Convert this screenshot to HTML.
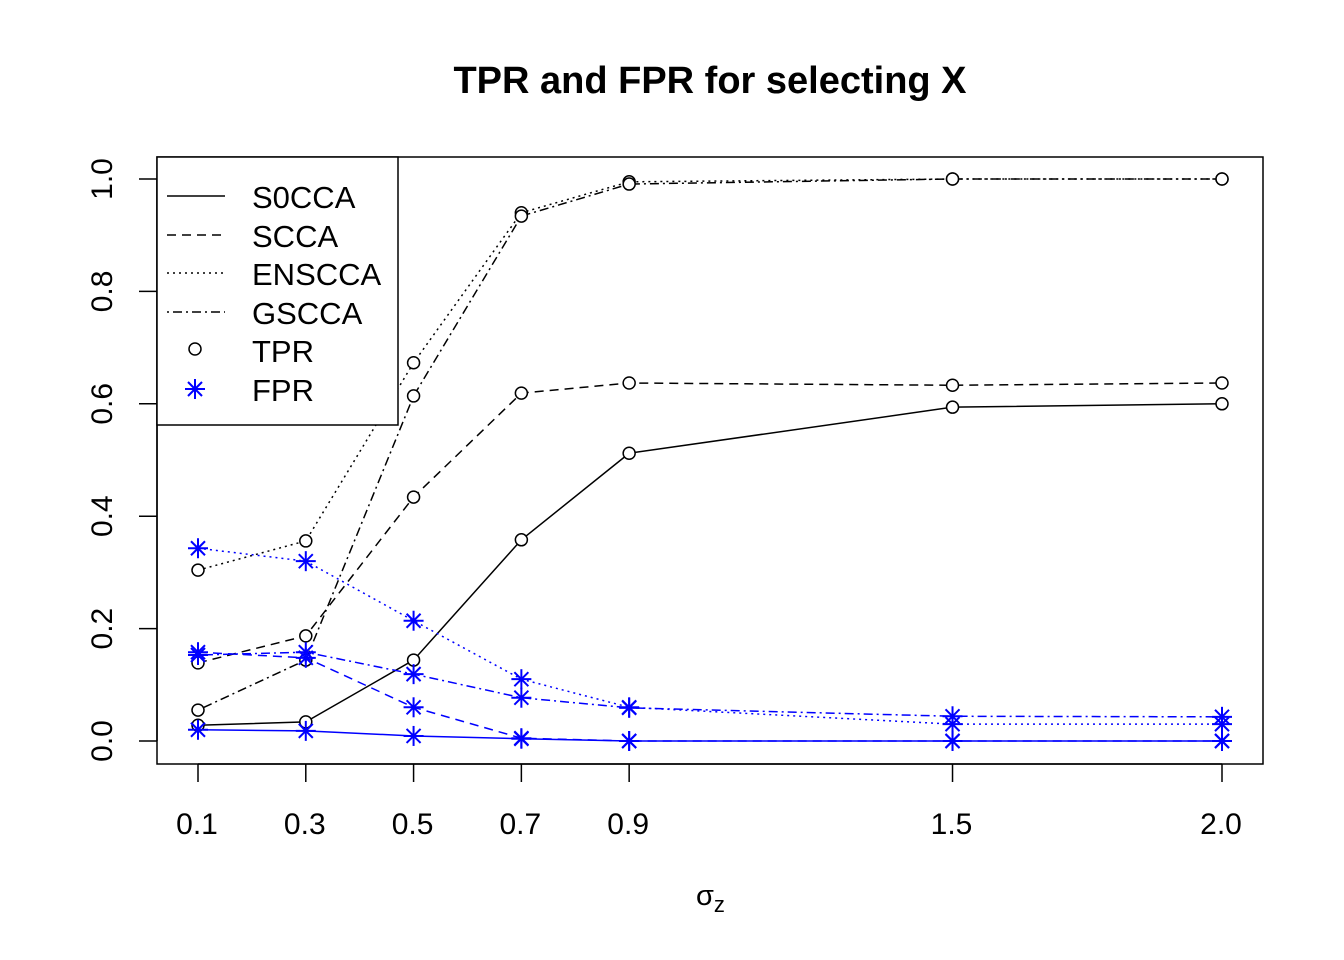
<!DOCTYPE html>
<html><head><meta charset="utf-8"><style>body{margin:0;background:#fff}svg{display:block}</style></head>
<body>
<svg id="chart" width="1344" height="960" xmlns="http://www.w3.org/2000/svg" font-family="Liberation Sans, sans-serif">
<rect width="1344" height="960" fill="#fff"/>
<text x="710" y="93" text-anchor="middle" font-size="38" font-weight="bold">TPR and FPR for selecting X</text>
<rect x="157" y="157" width="1106" height="607" fill="none" stroke="#000" stroke-width="1.5"/>
<g id="axes"></g>
<g id="series"></g>
<text x="696" y="905" font-size="29">σ<tspan font-size="22" dy="7">z</tspan></text>
<g>
<rect x="157" y="157" width="241" height="268" fill="#fff" stroke="#000" stroke-width="1.5"/>
<line x1="167" y1="196" x2="225" y2="196" stroke="#000" stroke-width="1.5"/>
<line x1="167" y1="235" x2="225" y2="235" stroke="#000" stroke-width="1.5" stroke-dasharray="9,6"/>
<line x1="167" y1="273" x2="225" y2="273" stroke="#000" stroke-width="1.5" stroke-dasharray="2,4"/>
<line x1="167" y1="312" x2="225" y2="312" stroke="#000" stroke-width="1.5" stroke-dasharray="2,4,9,4"/>
<circle cx="195" cy="349" r="6" fill="none" stroke="#000" stroke-width="1.5"/>
<g stroke="#00f" stroke-width="2"><line x1="185" y1="389" x2="205" y2="389"/><line x1="195" y1="379" x2="195" y2="399"/><line x1="188" y1="382" x2="202" y2="396"/><line x1="188" y1="396" x2="202" y2="382"/></g>
<g font-size="31"><text x="252" y="208">S0CCA</text><text x="252" y="247">SCCA</text><text x="252" y="285">ENSCCA</text><text x="252" y="324">GSCCA</text><text x="252" y="362">TPR</text><text x="252" y="401">FPR</text></g>
</g>
</svg>
<script>
const xs=[0.1,0.3,0.5,0.7,0.9,1.5,2.0];
const xTickLabels=["0.1","0.3","0.5","0.7","0.9","1.5","2.0"];
const yTicks=[0,0.2,0.4,0.6,0.8,1.0];
const yTickLabels=["0.0","0.2","0.4","0.6","0.8","1.0"];
const tprS0CCA=[0.028,0.034,0.144,0.358,0.512,0.594,0.6];
const tprSCCA=[0.139,0.187,0.434,0.619,0.637,0.633,0.637];
const tprENSCCA=[0.304,0.356,0.673,0.94,0.995,1.0,1.0];
const tprGSCCA=[0.055,0.144,0.614,0.934,0.991,1.0,1.0];
const fprS0CCA=[0.02,0.018,0.009,0.004,0,0,0];
const fprSCCA=[0.158,0.148,0.06,0.005,0,0,0];
const fprENSCCA=[0.343,0.32,0.214,0.11,0.06,0.03,0.03];
const fprGSCCA=[0.153,0.158,0.119,0.077,0.059,0.044,0.043];
const NS="http://www.w3.org/2000/svg";
const X=v=>198+(v-0.1)*(1024/1.9);
const Y=v=>741-v*562;
function mk(t,a,p){const e=document.createElementNS(NS,t);for(const k in a)e.setAttribute(k,a[k]);p.appendChild(e);return e;}
const ax=document.getElementById('axes');
const xa=mk('line',{x1:X(0.1),y1:764,x2:X(2.0),y2:764,stroke:'#000','stroke-width':1.5},ax);


xs.forEach((v,i)=>{
 const t=mk('line',{x1:X(v),y1:764,x2:X(v),y2:782,stroke:'#000','stroke-width':1.5},ax);
 
 
 const l=mk('text',{x:X(v)-1,y:834,'text-anchor':'middle','font-size':30},ax);
 
 
 l.textContent=xTickLabels[i];
});
const ya=mk('line',{x1:157,y1:Y(0),x2:157,y2:Y(1),stroke:'#000','stroke-width':1.5},ax);


yTicks.forEach((v,i)=>{
 const t=mk('line',{x1:139,y1:Y(v),x2:157,y2:Y(v),stroke:'#000','stroke-width':1.5},ax);
 
 
 const l=mk('text',{x:112,y:Y(v),'text-anchor':'middle','font-size':30,transform:`rotate(-90 112 ${Y(v)})`},ax);
 
 
 l.textContent=yTickLabels[i];
});
const sg=document.getElementById('series');
const dashes={S0CCA:'none',SCCA:'9,6',ENSCCA:'2,4',GSCCA:'2,4,9,4'};
function series(name,vals,color,star){
 const g=mk('g',{},sg);
 
 
 const key=name.split('-')[1].toUpperCase();
 const pts=vals.map((v,i)=>X(xs[i])+','+Y(v)).join(' ');
 const pl=mk('polyline',{points:pts,fill:'none',stroke:color,'stroke-width':1.5,'stroke-dasharray':dashes[key]},g);
 
 
 vals.forEach((v,i)=>{
  const cx=X(xs[i]),cy=Y(v);
  if(star){
   const s=mk('g',{stroke:color,'stroke-width':2},g);
   
   
   mk('line',{x1:cx-10,y1:cy,x2:cx+10,y2:cy},s);
   mk('line',{x1:cx,y1:cy-10,x2:cx,y2:cy+10},s);
   mk('line',{x1:cx-7,y1:cy-7,x2:cx+7,y2:cy+7},s);
   mk('line',{x1:cx-7,y1:cy+7,x2:cx+7,y2:cy-7},s);
  } else {
   const c=mk('circle',{cx:cx,cy:cy,r:6,fill:'#fff',stroke:color,'stroke-width':1.5},g);
   
   
  }
 });
}
series('tpr-s0cca',tprS0CCA,'#000',false);
series('tpr-scca',tprSCCA,'#000',false);
series('tpr-enscca',tprENSCCA,'#000',false);
series('tpr-gscca',tprGSCCA,'#000',false);
series('fpr-s0cca',fprS0CCA,'#00f',true);
series('fpr-scca',fprSCCA,'#00f',true);
series('fpr-enscca',fprENSCCA,'#00f',true);
series('fpr-gscca',fprGSCCA,'#00f',true);
</script>
</body></html>
